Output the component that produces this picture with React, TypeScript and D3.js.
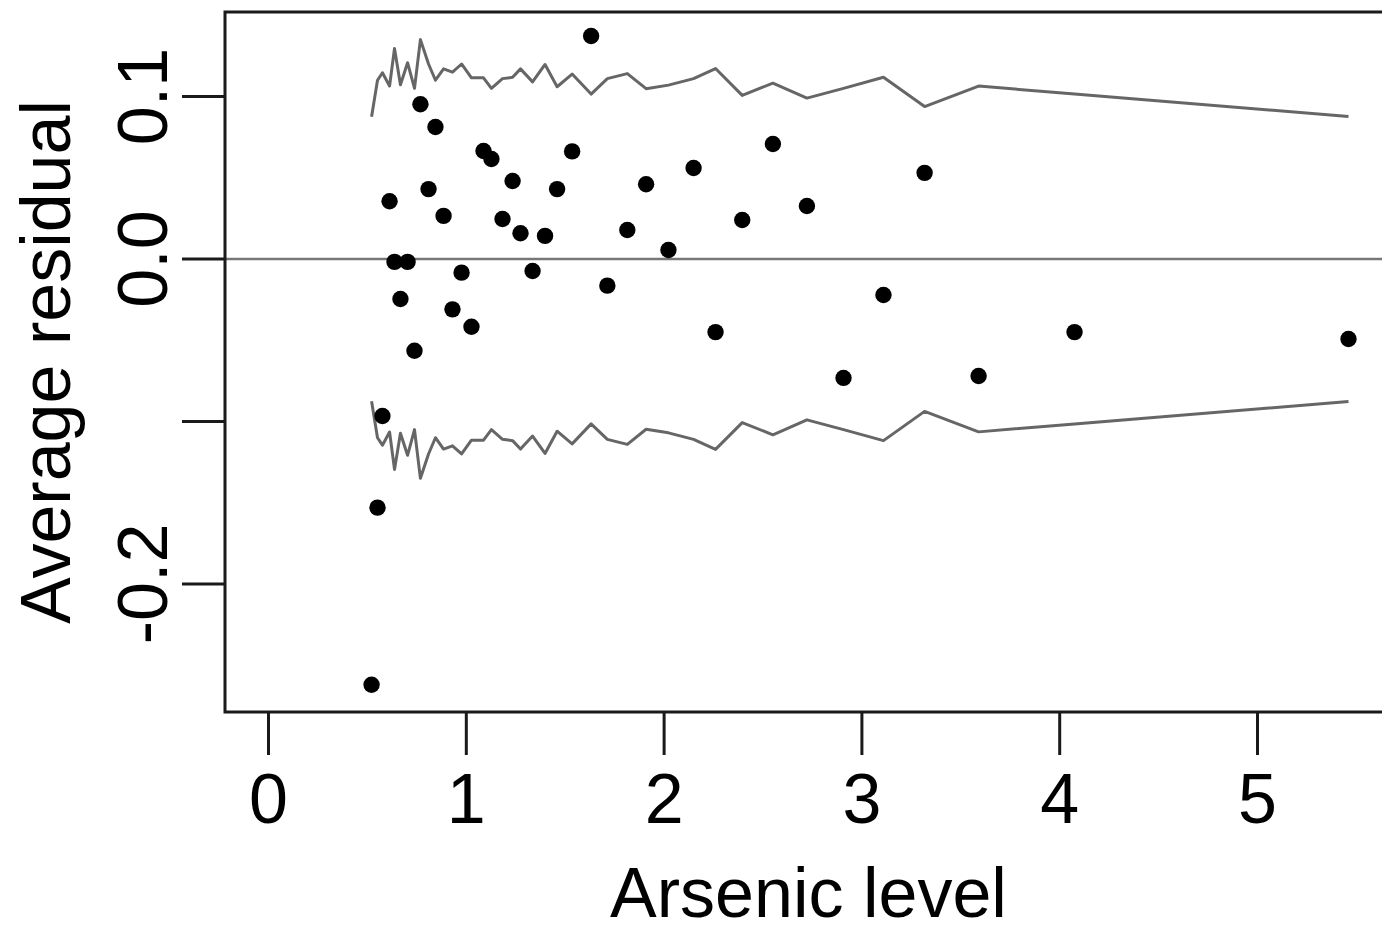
import * as d3 from 'd3';
import React from 'react';

// binned residuals: mean arsenic level per bin, average residual, and 2*sd band
const arsenic = [
  0.521, 0.551, 0.576, 0.612, 0.637, 0.667, 0.703, 0.738, 0.768, 0.809,
  0.844, 0.885, 0.930, 0.976, 1.026, 1.087, 1.127, 1.183, 1.234, 1.274,
  1.335, 1.398, 1.459, 1.535, 1.631, 1.713, 1.814, 1.909, 2.022, 2.149,
  2.260, 2.395, 2.550, 2.722, 2.907, 3.109, 3.317, 3.590, 4.075, 5.460,
];
const avgResidual = [
  -0.262, -0.153, -0.0966, 0.0355, -0.0018, -0.0246, -0.0018, -0.0565, 0.0952, 0.0430,
  0.0812, 0.0265, -0.0310, -0.0084, -0.0417, 0.0665, 0.0615, 0.0246, 0.0480, 0.0158,
  -0.0074, 0.0142, 0.0430, 0.0662, 0.1372, -0.0164, 0.0178, 0.0460, 0.0055, 0.0560,
  -0.0450, 0.0240, 0.0708, 0.0326, -0.0732, -0.0222, 0.0530, -0.0720, -0.0450, -0.0492,
];
const band = [
  0.0875, 0.110, 0.1146, 0.1065, 0.1295, 0.1072, 0.1208, 0.105, 0.135, 0.120,
  0.110, 0.117, 0.115, 0.120, 0.1115, 0.1115, 0.105, 0.111, 0.1118, 0.117,
  0.109, 0.1197, 0.106, 0.1138, 0.1015, 0.111, 0.1141, 0.1048, 0.107, 0.111,
  0.1172, 0.1007, 0.1082, 0.099, 0.105, 0.1118, 0.0938, 0.1064, 0.1015, 0.0877,
];

const xTicks = [0, 1, 2, 3, 4, 5];
const yTicks = [-0.2, -0.1, 0.0, 0.1];
const yTickLabels = ['-0.2', '', '0.0', '0.1'];

const font = '"Liberation Sans", Arial, sans-serif';

export default function App() {
  const width = 1382;
  const height = 927;

  const x = d3.scaleLinear().domain([-0.22, 5.68]).range([225, 1392]);
  const y = d3.scaleLinear().domain([-0.2788, 0.152]).range([712, 12]);

  const [left, right] = x.range();
  const [bottom, top] = y.range();

  const bins = arsenic.map((a, i) => ({ a, r: avgResidual[i], s: band[i] }));

  const upper = d3
    .line<{ a: number; s: number }>()
    .x((d) => x(d.a))
    .y((d) => y(d.s));
  const lower = d3
    .line<{ a: number; s: number }>()
    .x((d) => x(d.a))
    .y((d) => y(-d.s));

  return (
    <svg
      width={width}
      height={height}
      style={{ position: 'absolute', left: 0, top: 0, background: '#fff' }}
      fontFamily={font}
    >
      {/* zero line */}
      <line x1={left} x2={right} y1={y(0)} y2={y(0)} stroke="#777" strokeWidth={2.6} />

      {/* +/- 2 sd band */}
      <path d={upper(bins) || ''} fill="none" stroke="#666" strokeWidth={3} strokeLinejoin="round" />
      <path d={lower(bins) || ''} fill="none" stroke="#666" strokeWidth={3} strokeLinejoin="round" />

      {bins.map((d, i) => (
        <circle key={i} cx={x(d.a)} cy={y(d.r)} r={8.2} fill="#000" />
      ))}

      {/* box */}
      <rect
        x={left}
        y={top}
        width={right - left}
        height={bottom - top}
        fill="none"
        stroke="#1a1a1a"
        strokeWidth={3}
      />

      {/* x axis */}
      {xTicks.map((t) => (
        <g key={t}>
          <line x1={x(t)} x2={x(t)} y1={bottom} y2={bottom + 43} stroke="#1a1a1a" strokeWidth={3} />
          <text x={x(t)} y={823} fontSize={70} textAnchor="middle" fill="#000">
            {t}
          </text>
        </g>
      ))}
      <text x={(left + right) / 2} y={917} fontSize={70} textAnchor="middle" fill="#000">
        Arsenic level
      </text>

      {/* y axis */}
      {yTicks.map((t, i) => (
        <g key={t}>
          <line x1={left - 43} x2={left} y1={y(t)} y2={y(t)} stroke="#1a1a1a" strokeWidth={3} />
          {yTickLabels[i] && (
            <text
              transform={`translate(167,${y(t)}) rotate(-90)`}
              fontSize={70}
              textAnchor="middle"
              fill="#000"
            >
              {yTickLabels[i]}
            </text>
          )}
        </g>
      ))}
      <text
        transform={`translate(70,${(top + bottom) / 2}) rotate(-90)`}
        fontSize={70}
        textAnchor="middle"
        fill="#000"
      >
        Average residual
      </text>
    </svg>
  );
}
